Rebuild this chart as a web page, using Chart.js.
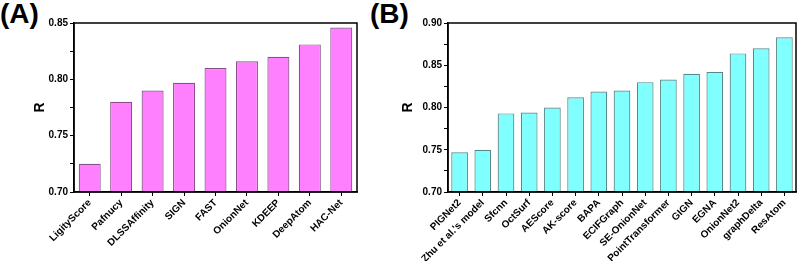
<!DOCTYPE html>
<html>
<head>
<meta charset="utf-8">
<script src="https://cdn.jsdelivr.net/npm/chart.js@4"></script>
<style>
  body { margin: 0; background: #fff; width: 800px; height: 261px; position: relative; overflow: hidden; }
  .wrap { position: absolute; top: 0; height: 261px; }
  .tag { position: absolute; font: bold 28px "Liberation Sans", Arial, sans-serif; color: #000; top: -2px; }
</style>
</head>
<body>
<div class="tag" style="left:0px">(A)</div>
<div class="tag" style="left:370px">(B)</div>
<div class="wrap" style="left:0px;width:368px"><canvas id="chartA"></canvas></div>
<div class="wrap" style="left:400px;width:400px"><canvas id="chartB"></canvas></div>
<script>
'use strict';

const labelsA = ['LigityScore', 'Pafnucy', 'DLSSAffinity', 'SIGN', 'FAST', 'OnionNet', 'KDEEP', 'DeepAtom', 'HAC-Net'];
const valuesA = [0.725, 0.780, 0.790, 0.797, 0.810, 0.816, 0.820, 0.831, 0.846];

const labelsB = ['PIGNet2', 'Zhu et al.\'s model', 'Sfcnn', 'OctSurf', 'AEScore', 'AK-score', 'BAPA', 'ECIFGraph',
  'SE-OnionNet', 'PointTransformer', 'GIGN', 'EGNA', 'OnionNet2', 'graphDelta', 'ResAtom'];
const valuesB = [0.747, 0.750, 0.793, 0.794, 0.800, 0.812, 0.819, 0.820, 0.830, 0.833, 0.840, 0.842, 0.864, 0.870, 0.883];

const rangeA = [0.70, 0.85];
const rangeB = [0.70, 0.90];
const majorLabelsA = ['0.70', '0.75', '0.80', '0.85'];
const majorLabelsB = ['0.70', '0.75', '0.80', '0.85', '0.90'];

const FONT = '"Liberation Sans", Arial, sans-serif';

// box around the plot area, like the Origin frame
const frame = {
  id: 'frame',
  afterDraw(chart) {
    const a = chart.chartArea, ctx = chart.ctx;
    ctx.save();
    ctx.strokeStyle = '#000';
    ctx.lineWidth = 1.5;
    ctx.strokeRect(a.left, a.top, a.right - a.left, a.bottom - a.top);
    ctx.restore();
  }
};

function makeChart(id, labels, values, range, majors, fill, border, pad, yWidth, xHeight, barPct) {
  return new Chart(document.getElementById(id), {
    type: 'bar',
    data: {
      labels: labels,
      datasets: [{
        data: values,
        base: range[0],
        backgroundColor: fill,
        borderColor: border,
        borderWidth: 1.2,
        borderSkipped: 'start',
        barPercentage: barPct,
        categoryPercentage: 1
      }]
    },
    options: {
      responsive: true,
      maintainAspectRatio: false,
      animation: false,
      layout: { padding: pad },
      plugins: { legend: { display: false }, tooltip: { enabled: false } },
      scales: {
        x: {
          grid: { display: true, drawOnChartArea: false, offset: false, tickLength: 4, color: '#000', tickWidth: 1 },
          border: { display: true, color: '#000', width: 1.5 },
          ticks: {
            color: '#000', font: { family: FONT, size: 10, weight: 'bold' },
            maxRotation: 45, minRotation: 45, autoSkip: false, padding: 1
          },
          afterFit(s) { s.height = xHeight; }
        },
        y: {
          min: range[0], max: range[1],
          grid: { display: true, drawOnChartArea: false, tickLength: 4, color: '#000' },
          border: { display: true, color: '#000', width: 1.5 },
          ticks: {
            stepSize: 0.025, color: '#000', padding: 2,
            font: { family: FONT, size: 10, weight: 'bold' },
            callback(v) {
              const s = v.toFixed(2);
              return majors.includes(s) && Math.round(v * 40) % 2 === 0 ? s : '';
            }
          },
          title: { display: true, text: 'R', color: '#000', font: { family: FONT, size: 14, weight: 'bold' }, padding: 0 },
          afterFit(s) { s.width = yWidth; }
        }
      }
    },
    plugins: [frame]
  });
}

makeChart('chartA', labelsA, valuesA, rangeA, majorLabelsA, '#ff80ff', '#8a4f8a',
  { top: 23, right: 11, left: 32, bottom: 0 }, 42, 69, 0.7);
makeChart('chartB', labelsB, valuesB, rangeB, majorLabelsB, '#80ffff', '#5a8888',
  { top: 23, right: 4, left: 0, bottom: 0 }, 48, 69, 0.72);
</script>
</body>
</html>
